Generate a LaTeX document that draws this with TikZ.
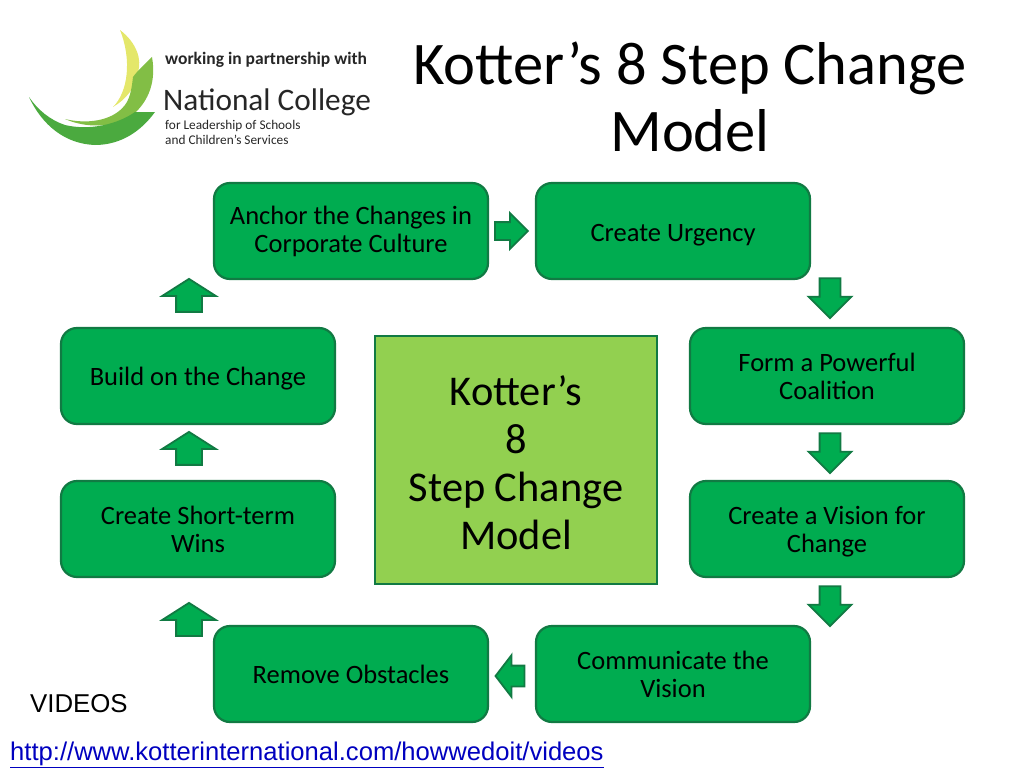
\documentclass[tikz,border=0pt]{standalone}
\usepackage{fontspec}
\setmainfont{Carlito}
\newfontfamily\arialfont{Liberation Sans}
\usepackage{tikz}
\usetikzlibrary{positioning,shapes.arrows}
\definecolor{boxgreen}{HTML}{00AC50}
\definecolor{boxline}{HTML}{117A43}
\definecolor{midgreen}{HTML}{92D050}
\definecolor{logodark}{HTML}{4BAA3F}
\definecolor{logolight}{HTML}{82BE45}
\definecolor{logoyellow}{HTML}{E4E76A}
\tikzset{
  stepbox/.style={draw=boxline,line width=2.2pt,fill=boxgreen,rounded corners=16pt,
    minimum width=274pt,minimum height=96pt,align=center,inner sep=2pt,
    font=\fontsize{26.5}{28}\selectfont},
  midbox/.style={draw=boxline,line width=2.2pt,fill=midgreen,minimum width=282pt,
    minimum height=248pt,align=center,text height=180pt,font=\fontsize{42.4}{48}\selectfont},
  flow/.style={draw=boxline,line width=1.8pt,fill=boxgreen,single arrow,anchor=center},
  flowright/.style={flow,minimum height=33pt,inner xsep=0pt,inner ysep=8pt,
    single arrow head extend=9pt,single arrow tip angle=90},
  flowleft/.style={flow,minimum height=29pt,inner xsep=0pt,inner ysep=9.5pt,shape border rotate=180,
    single arrow head extend=10.5pt,single arrow tip angle=105},
  flowup/.style={flow,minimum height=33pt,inner ysep=0pt,inner xsep=12pt,shape border rotate=90,
    single arrow head extend=14pt,single arrow tip angle=115},
  flowdown/.style={flow,minimum height=40pt,inner ysep=0pt,inner xsep=9.5pt,shape border rotate=270,
    single arrow head extend=11pt,single arrow tip angle=90},
  logotext/.style={anchor=west,inner sep=0pt,text=black!85}
}
\begin{document}
\begin{tikzpicture}[x=1pt,y=-1pt]
  \useasboundingbox (0,0) rectangle (1024,768);
  % logo
  \fill[logoyellow] (120,30) .. controls (137,43) and (142,60) .. (138,72)
    .. controls (136,88) and (125,100) .. (113,107)
    .. controls (128,92) and (132,60) .. (120,30) -- cycle;
  \fill[logolight] (152,57) .. controls (157,85) and (146,105) .. (130,117)
    .. controls (112,128) and (85,128) .. (65,119)
    .. controls (85,124) and (112,122) .. (125,105)
    .. controls (131,97) and (132,85) .. (133,77)
    .. controls (138,70) and (146,63) .. (152,57) -- cycle;
  \fill[logodark] (29,97) .. controls (42,125) and (65,144) .. (95,145)
    .. controls (122,145) and (142,130) .. (155,112) -- (135,112)
    .. controls (118,124) and (90,131) .. (65,125)
    .. controls (50,120) and (38,110) .. (29,97) -- cycle;
  \node[logotext,font=\fontsize{17.5}{20}\selectfont\bfseries] (partner) at (165,60) {working in partnership with};
  \node[logotext,font=\fontsize{31.3}{36}\selectfont] (college) at (163,102) {National College};
  \node[logotext,align=left,font=\fontsize{13.3}{15}\selectfont] (leadership) at (165,132) {for Leadership of Schools\\and Children's Services};
  % title
  \node[align=center,font=\fontsize{60.5}{67}\selectfont] (title) at (690,97) {Kotter's 8 Step Change\\Model};
  % boxes
  \node[midbox] (model) at (516,460) {Kotter's\\8\\Step Change\\Model};
  \node[stepbox] (anchor) at (351,231) {Anchor the Changes in\\Corporate Culture};
  \node[stepbox,text height=21pt,text depth=0pt] (urgency) at (673,231) {Create Urgency};
  \node[stepbox] (coalition) at (827,376) {Form a Powerful\\Coalition};
  \node[stepbox,text depth=0pt] (vision) at (827,529) {Create a Vision for\\Change};
  \node[stepbox] (communicate) at (673,674) {Communicate the\\Vision};
  \node[stepbox] (obstacles) at (351,674) {Remove Obstacles};
  \node[stepbox] (wins) at (198,529) {Create Short-term\\Wins};
  \node[stepbox,text depth=0pt] (build) at (198,376) {Build on the Change};
  % arrows
  \node[flowright] (a1) at (507,231) {};
  \node[flowdown] (a2) at (830,293) {};
  \node[flowdown] (a3) at (830,448) {};
  \node[flowdown] (a4) at (830,601) {};
  \node[flowleft] (a5) at (514,676) {};
  \node[flowup] (a6) at (189,623.5) {};
  \node[flowup] (a7) at (189,452.5) {};
  \node[flowup] (a8) at (189,299.5) {};
  % links
  \node[anchor=west,inner sep=0pt,font=\arialfont\fontsize{25.8}{30}\selectfont] (videos) at (30,704) {VIDEOS};
  \node[anchor=west,inner sep=0pt,text=blue!75!black,font=\arialfont\fontsize{25.6}{30}\selectfont] (url) at (10,755) {\underline{http://www.kotterinternational.com/howwedoit/videos}};
\end{tikzpicture}
\end{document}
